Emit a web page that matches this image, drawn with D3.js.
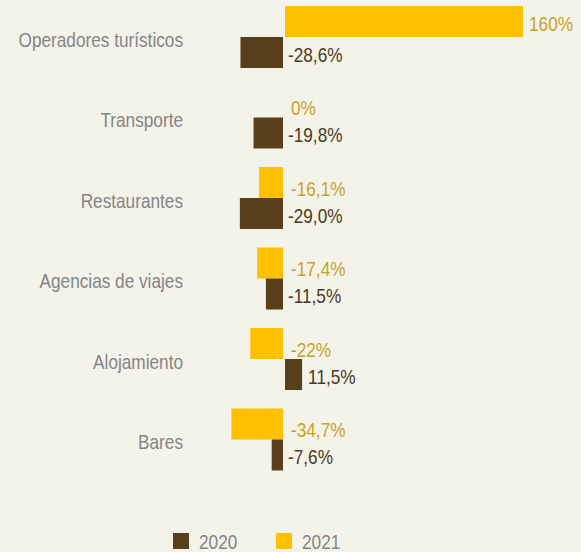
<!DOCTYPE html>
<html>
<head>
<meta charset="utf-8">
<script src="https://cdn.jsdelivr.net/npm/d3@7"></script>
<style>
  html, body { margin: 0; padding: 0; background: #f4f3e9; }
  #chart { width: 581px; height: 552px; }
  text { font-family: "Liberation Sans", Arial, sans-serif; font-size: 21px; }
</style>
</head>
<body>
<div id="chart"></div>
<script>
// datos
const categories = ["Operadores turísticos", "Transporte", "Restaurantes", "Agencias de viajes", "Alojamiento", "Bares"];
const series = ["2021", "2020"];
const values2020 = [-28.6, -19.8, -29.0, -11.5, 11.5, -7.6];
const values2021 = [160, 0, -16.1, -17.4, -22, -34.7];
const labels2020 = ["-28,6%", "-19,8%", "-29,0%", "-11,5%", "11,5%", "-7,6%"];
const labels2021 = ["160%", "0%", "-16,1%", "-17,4%", "-22%", "-34,7%"];

const colors = { "2020": "#58401c", "2021": "#ffc000" };
const textColors = { "2020": "#4b3a20", "2021": "#c9a227" };

const width = 581, height = 552;
const narrow = 0.82; // simular fuente estrecha

const svg = d3.select("#chart")
  .append("svg")
  .attr("width", width)
  .attr("height", height);

svg.append("rect").attr("width", width).attr("height", height).attr("fill", "#f4f3e9");

// escalas
const x = d3.scaleLinear().domain([-40, 160]).range([224.5, 522]);
const y = d3.scaleBand().domain(categories).range([6, 470.5]).paddingInner(0.23).paddingOuter(0);
const ySub = d3.scaleBand().domain(series).range([0, y.bandwidth()]);

// armar filas
const rows = [];
categories.forEach((c, i) => {
  rows.push({ cat: c, serie: "2021", value: values2021[i], label: labels2021[i] });
  rows.push({ cat: c, serie: "2020", value: values2020[i], label: labels2020[i] });
});

const zero = x(0);

// barras
svg.selectAll("rect.bar")
  .data(rows)
  .enter()
  .append("rect")
  .attr("class", "bar")
  .attr("x", (d) => (d.value >= 0 ? zero + 1 : x(d.value) - 1))
  .attr("y", (d) => y(d.cat) + ySub(d.serie))
  .attr("width", (d) => Math.abs(x(d.value) - zero))
  .attr("height", ySub.bandwidth())
  .attr("fill", (d) => colors[d.serie]);

// etiquetas de valores
const valX = (d) => (d.value > 0 ? x(d.value) + 7 : zero + (d.serie === "2021" ? 7 : 4));
const valY = (d) => {
  const c = y(d.cat) + ySub(d.serie) + ySub.bandwidth() / 2;
  return d.serie === "2021" && d.value <= 0 ? c + 6 : c + 2;
};

svg.selectAll("text.val")
  .data(rows)
  .enter()
  .append("text")
  .attr("class", "val")
  .attr("transform", (d) => `translate(${valX(d)}, ${valY(d)}) scale(${narrow}, 1)`)
  .attr("dominant-baseline", "central")
  .attr("fill", (d) => textColors[d.serie])
  .text((d) => d.label);

// categorias
svg.selectAll("text.cat")
  .data(categories)
  .enter()
  .append("text")
  .attr("class", "cat")
  .attr("transform", (d) => `translate(183, ${y(d) + y.bandwidth() / 2 + 2.5}) scale(${narrow}, 1)`)
  .attr("text-anchor", "end")
  .attr("dominant-baseline", "central")
  .attr("fill", "#858585")
  .text((d) => d);

// leyenda
const legendX = d3.scaleOrdinal().domain(["2020", "2021"]).range([173, 276]);
const legend = svg.selectAll("g.legend")
  .data(["2020", "2021"])
  .enter()
  .append("g")
  .attr("class", "legend")
  .attr("transform", (d) => `translate(${legendX(d)}, 533)`);

legend.append("rect")
  .attr("width", 16)
  .attr("height", 16)
  .attr("fill", (d) => colors[d]);

legend.append("text")
  .attr("transform", `translate(26, 9) scale(${narrow}, 1)`)
  .attr("dominant-baseline", "central")
  .attr("fill", "#858585")
  .text((d) => d);
</script>
</body>
</html>
